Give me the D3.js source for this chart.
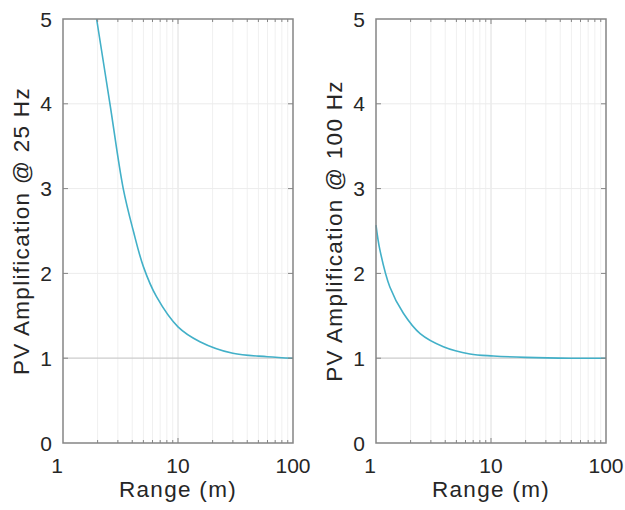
<!DOCTYPE html>
<html lang="en">
<head>
<meta charset="UTF-8">
<title>PV Amplification vs Range</title>
<style>
  body { margin: 0; background: #fff; font-family: "Liberation Sans", Arial, sans-serif; }
  .tick-label { font-size: 21px; fill: #262626; }
  .axis-title { font-size: 22.5px; fill: #262626; letter-spacing: 1.3px; }
  .box { fill: none; stroke: #858585; stroke-width: 1.5px; }
  .tick { stroke: #858585; stroke-width: 1px; }
  .curve { fill: none; stroke: #42b0c8; stroke-width: 1.6px; }
</style>
</head>
<body>
<div id="chart"></div>
<script src="https://d3js.org/d3.v7.min.js"></script>
<script>
// data
var rangeLeft = [1.96, 2.56, 3.34, 4.09, 5, 6.5, 10, 15.5, 30, 60, 100];
var ampLeft   = [5.0, 4.0, 3.0, 2.5, 2.08, 1.725, 1.37, 1.195, 1.058, 1.018, 1.0];
var rangeRight = [1, 1.08, 1.32, 1.73, 2.42, 3.85, 6.56, 10.5, 20, 50, 100];
var ampRight   = [2.57, 2.28, 1.84, 1.53, 1.29, 1.136, 1.05, 1.026, 1.01, 1.0, 1.0];
var xTicks = [1, 10, 100];
var yTicks = [0, 1, 2, 3, 4, 5];
var panelTitles = ["PV Amplification @ 25 Hz", "PV Amplification @ 100 Hz"];

var width = 625, height = 510;
var plotW = 230, plotH = 424;
var panelLeft = [63, 376];
var plotTop = 19;

var svg = d3.select('#chart').append('svg')
  .attr('width', width)
  .attr('height', height);

var x = d3.scaleLog().domain([1, 100]).range([0, plotW]);
var y = d3.scaleLinear().domain([0, 5]).range([plotH, 0]);

var minorX = [];
[1, 10].forEach(function(dec) {
  for (var k = 2; k <= 9; k++) minorX.push(dec * k);
});

var panels = [
  { xs: rangeLeft, ys: ampLeft },
  { xs: rangeRight, ys: ampRight }
];

panels.forEach(function(p, i) {
  var g = svg.append('g')
    .attr('transform', 'translate(' + panelLeft[i] + ',' + plotTop + ')');

  // grid
  g.selectAll('.vminor').data(minorX).enter().append('line')
    .attr('x1', function(d) { return x(d); })
    .attr('x2', function(d) { return x(d); })
    .attr('y1', 0).attr('y2', plotH)
    .attr('stroke', '#f0f0f0').attr('stroke-width', 1);
  g.append('line')
    .attr('x1', x(10)).attr('x2', x(10))
    .attr('y1', 0).attr('y2', plotH)
    .attr('stroke', '#dedede').attr('stroke-width', 1);
  g.selectAll('.hgrid').data([2, 3, 4]).enter().append('line')
    .attr('x1', 0).attr('x2', plotW)
    .attr('y1', function(d) { return y(d); })
    .attr('y2', function(d) { return y(d); })
    .attr('stroke', '#ececec').attr('stroke-width', 1);
  g.append('line')
    .attr('x1', 0).attr('x2', plotW)
    .attr('y1', y(1)).attr('y2', y(1))
    .attr('stroke', '#cccccc').attr('stroke-width', 1.2);

  // curve
  var line = d3.line()
    .x(function(d) { return x(d[0]); })
    .y(function(d) { return y(d[1]); })
    .curve(d3.curveCatmullRom.alpha(0.5));
  g.append('path')
    .attr('class', 'curve')
    .attr('d', line(d3.zip(p.xs, p.ys)));

  // ticks (inside, on all four sides)
  yTicks.slice(1, -1).forEach(function(t) {
    g.append('line').attr('class', 'tick')
      .attr('x1', 0).attr('x2', 5).attr('y1', y(t)).attr('y2', y(t));
    g.append('line').attr('class', 'tick')
      .attr('x1', plotW).attr('x2', plotW - 5).attr('y1', y(t)).attr('y2', y(t));
  });
  minorX.forEach(function(t) {
    g.append('line').attr('class', 'tick')
      .attr('x1', x(t)).attr('x2', x(t)).attr('y1', plotH).attr('y2', plotH - 3);
    g.append('line').attr('class', 'tick')
      .attr('x1', x(t)).attr('x2', x(t)).attr('y1', 0).attr('y2', 3);
  });
  g.append('line').attr('class', 'tick')
    .attr('x1', x(10)).attr('x2', x(10)).attr('y1', plotH).attr('y2', plotH - 5);
  g.append('line').attr('class', 'tick')
    .attr('x1', x(10)).attr('x2', x(10)).attr('y1', 0).attr('y2', 5);

  // box
  g.append('rect').attr('class', 'box')
    .attr('x', 0).attr('y', 0).attr('width', plotW).attr('height', plotH);

  // tick labels
  g.selectAll('.xl').data(xTicks).enter().append('text')
    .attr('class', 'tick-label')
    .attr('x', function(d) { return x(d); })
    .attr('dx', function(d) { return d === 1 ? -6 : 0; })
    .attr('y', plotH + 30)
    .attr('text-anchor', 'middle')
    .text(function(d) { return d; });
  g.selectAll('.yl').data(yTicks).enter().append('text')
    .attr('class', 'tick-label')
    .attr('x', -11)
    .attr('y', function(d) { return y(d); })
    .attr('dy', '0.36em')
    .attr('text-anchor', 'end')
    .text(function(d) { return d; });

  // axis titles
  g.append('text')
    .attr('class', 'axis-title')
    .attr('x', x(10))
    .attr('y', plotH + 54)
    .attr('text-anchor', 'middle')
    .text('Range (m)');
  g.append('text')
    .attr('class', 'axis-title')
    .attr('transform', 'translate(-34,' + (plotH / 2) + ') rotate(-90)')
    .attr('text-anchor', 'middle')
    .text(panelTitles[i]);
});
</script>
</body>
</html>
